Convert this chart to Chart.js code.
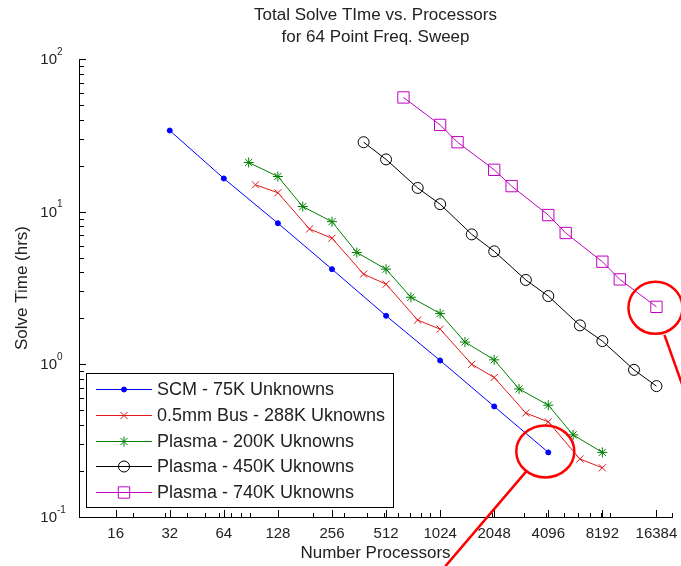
<!DOCTYPE html>
<html>
<head>
<meta charset="utf-8">
<script src="https://cdn.jsdelivr.net/npm/chart.js@4"></script>
<style>
  body { margin: 0; background: #fff; }
  #wrap { width: 681px; height: 566px; }
</style>
</head>
<body>
<div id="wrap"><canvas id="solveChart"></canvas></div>
<script>
// values (processors vs. hours)
const scmProcs  = [32, 64, 128, 256, 512, 1024, 2048, 4096];
const scmHours  = [34, 16.5, 8.4, 4.2, 2.08, 1.06, 0.53, 0.265];

const busProcs  = [96, 128, 192, 256, 384, 512, 768, 1024, 1536, 2048, 3072, 4096, 6144, 8192];
const busHours  = [15, 13.3, 7.7, 6.7, 3.9, 3.35, 1.95, 1.7, 1.0, 0.82, 0.48, 0.42, 0.24, 0.21];

const p200Procs = [88, 128, 176, 256, 352, 512, 704, 1024, 1408, 2048, 2816, 4096, 5632, 8192];
const p200Hours = [21, 17, 10.8, 8.6, 5.4, 4.2, 2.75, 2.15, 1.4, 1.07, 0.69, 0.54, 0.345, 0.265];

const p450Procs = [384, 512, 768, 1024, 1536, 2048, 3072, 4096, 6144, 8192, 12288, 16384];
const p450Hours = [28.5, 22, 14.3, 11.2, 7.1, 5.5, 3.57, 2.8, 1.8, 1.42, 0.92, 0.72];

const p740Procs = [640, 1024, 1280, 2048, 2560, 4096, 5120, 8192, 10240, 16384];
const p740Hours = [56, 37, 28.5, 18.8, 14.7, 9.5, 7.25, 4.7, 3.6, 2.38];

const seriesLabels = [
  'SCM - 75K Unknowns',
  '0.5mm Bus - 288K Uknowns',
  'Plasma - 200K Uknowns',
  'Plasma - 450K Uknowns',
  'Plasma - 740K Uknowns'
];
const xTickValues = [16, 32, 64, 128, 256, 512, 1024, 2048, 4096, 8192, 16384];
const yTickValues = [0.1, 1, 10, 100];
const yTickExp = ['-1', '0', '1', '2'];
const titleLines = ['Total Solve TIme vs. Processors', 'for 64 Point Freq. Sweep'];

const FONT = '"Liberation Sans", Arial, sans-serif';

function pts(xs, ys) {
  return xs.map((x, i) => ({x: x, y: ys[i]}));
}

function series(label, xs, ys, color, style, radius, fill) {
  return {
    label: label,
    data: pts(xs, ys),
    borderColor: color,
    borderWidth: 1,
    pointStyle: style,
    pointRadius: radius,
    pointBorderColor: color,
    pointBackgroundColor: fill ? color : 'rgba(0,0,0,0)',
    pointBorderWidth: 1,
    pointHoverRadius: radius,
    fill: false,
    tension: 0
  };
}

const datasets = [
  series(seriesLabels[0], scmProcs, scmHours, '#0000ff', 'circle', 2.5, true),
  series(seriesLabels[1], busProcs, busHours, '#e01818', 'crossRot', 5, false),
  series(seriesLabels[2], p200Procs, p200Hours, '#008000', 'star', 5, false),
  series(seriesLabels[3], p450Procs, p450Hours, '#000000', 'circle', 5.5, false),
  series(seriesLabels[4], p740Procs, p740Hours, '#bf00bf', 'rect', 8, false)
];

// inward tick marks, title, legend box and the red note circles
const decorations = {
  id: 'decorations',
  afterDraw(chart) {
    const ctx = chart.ctx;
    const xs = chart.scales.x, ys = chart.scales.y;
    const area = chart.chartArea;
    ctx.save();
    ctx.strokeStyle = '#000';
    ctx.lineWidth = 1;
    ctx.beginPath();
    // y ticks
    for (let d = -1; d <= 2; d++) {
      for (let m = 1; m <= 9; m++) {
        const v = m * Math.pow(10, d);
        if (v > 100) break;
        const py = Math.round(ys.getPixelForValue(v)) + 0.5;
        const len = m === 1 ? 7 : 5;
        ctx.moveTo(area.left, py);
        ctx.lineTo(area.left + len, py);
      }
    }
    // x minor ticks
    for (let d = 1; d <= 4; d++) {
      for (let m = 2; m <= 9; m++) {
        const v = m * Math.pow(10, d);
        if (v > 20000) break;
        const px = Math.round(xs.getPixelForValue(v)) + 0.5;
        ctx.moveTo(px, area.bottom);
        ctx.lineTo(px, area.bottom - 4);
      }
    }
    xTickValues.forEach(v => {
      const px = Math.round(xs.getPixelForValue(v)) + 0.5;
      ctx.moveTo(px, area.bottom);
      ctx.lineTo(px, area.bottom - 7);
    });
    ctx.stroke();

    // y tick labels 10^n
    ctx.fillStyle = '#222';
    ctx.textBaseline = 'middle';
    yTickValues.forEach((v, i) => {
      const py = ys.getPixelForValue(v);
      ctx.font = '15px ' + FONT;
      ctx.textAlign = 'right';
      ctx.fillText('10', 57, py + 1);
      ctx.font = '10px ' + FONT;
      ctx.textAlign = 'left';
      ctx.fillText(yTickExp[i], 57, py - 7);
    });

    // title
    ctx.font = '17px ' + FONT;
    ctx.textAlign = 'center';
    ctx.fillText(titleLines[0], (area.left + area.right) / 2, 15);
    ctx.fillText(titleLines[1], (area.left + area.right) / 2, 37);

    // legend
    const lx = 86, ly = 373, lw = 307, lh = 134;
    ctx.fillStyle = '#fff';
    ctx.fillRect(lx, ly, lw, lh);
    ctx.strokeStyle = '#000';
    ctx.strokeRect(lx + 0.5, ly + 0.5, lw, lh);
    chart.data.datasets.forEach((ds, i) => {
      const ry = 389 + i * 25.8;
      ctx.strokeStyle = ds.borderColor;
      ctx.lineWidth = 1;
      ctx.beginPath();
      ctx.moveTo(96, Math.round(ry) + 0.5);
      ctx.lineTo(152, Math.round(ry) + 0.5);
      ctx.stroke();
      ctx.fillStyle = ds.pointBackgroundColor;
      Chart.helpers.drawPoint(ctx, {
        pointStyle: ds.pointStyle, radius: ds.pointRadius, rotation: 0, borderWidth: 1
      }, 124, Math.round(ry) + 0.5);
      ctx.fillStyle = '#222';
      ctx.font = '18px ' + FONT;
      ctx.textAlign = 'left';
      ctx.fillText(ds.label, 157, ry + 1);
    });

    // red note circles around the last points
    ctx.strokeStyle = '#ff0000';
    ctx.lineWidth = 2.5;
    const c1x = xs.getPixelForValue(scmProcs[scmProcs.length - 1]) - 3;
    const c1y = ys.getPixelForValue(scmHours[scmHours.length - 1]) - 1;
    ctx.beginPath();
    ctx.ellipse(c1x, c1y, 29, 26, 0, 0, Math.PI * 2);
    ctx.moveTo(c1x - 19, c1y + 20);
    ctx.lineTo(c1x - 100, c1y + 115);
    ctx.stroke();
    const c2x = xs.getPixelForValue(p740Procs[p740Procs.length - 1]) - 1;
    const c2y = ys.getPixelForValue(p740Hours[p740Hours.length - 1]) + 1;
    ctx.beginPath();
    ctx.ellipse(c2x, c2y, 27, 26, 0, 0, Math.PI * 2);
    ctx.moveTo(c2x + 9, c2y + 27);
    ctx.lineTo(c2x + 35, c2y + 100);
    ctx.stroke();
    ctx.restore();
  }
};

const canvas = document.getElementById('solveChart');
new Chart(canvas, {
  type: 'line',
  data: { datasets: datasets },
  options: {
    responsive: true,
    maintainAspectRatio: false,
    animation: false,
    layout: { padding: { top: 59, right: 8, left: 0, bottom: 0 } },
    plugins: {
      legend: { display: false },
      title: { display: false },
      tooltip: { enabled: false }
    },
    scales: {
      x: {
        type: 'logarithmic',
        min: 10,
        max: 20000,
        afterBuildTicks: (scale) => { scale.ticks = xTickValues.map(v => ({value: v})); },
        afterFit: (scale) => { scale.height = 49; scale.paddingLeft = 0; scale.paddingRight = 0; },
        grid: { display: false, drawTicks: false },
        border: { display: true, color: '#000', width: 1 },
        ticks: {
          autoSkip: false, maxRotation: 0, padding: 8, color: '#222',
          font: { family: FONT, size: 15 },
          callback: (v) => String(v)
        },
        title: {
          display: true, text: 'Number Processors', color: '#222',
          font: { family: FONT, size: 17 }, padding: { top: 0, bottom: 2 }
        }
      },
      y: {
        type: 'logarithmic',
        min: 0.1,
        max: 100,
        afterBuildTicks: (scale) => { scale.ticks = yTickValues.map(v => ({value: v})); },
        afterFit: (scale) => { scale.width = 79; scale.paddingTop = 0; scale.paddingBottom = 0; },
        grid: { display: false, drawTicks: false },
        border: { display: true, color: '#000', width: 1 },
        ticks: { display: false },
        title: {
          display: true, text: 'Solve Time (hrs)', color: '#222',
          font: { family: FONT, size: 17 }, padding: { top: 12, bottom: 0 }
        }
      }
    }
  },
  plugins: [decorations]
});
</script>
</body>
</html>
